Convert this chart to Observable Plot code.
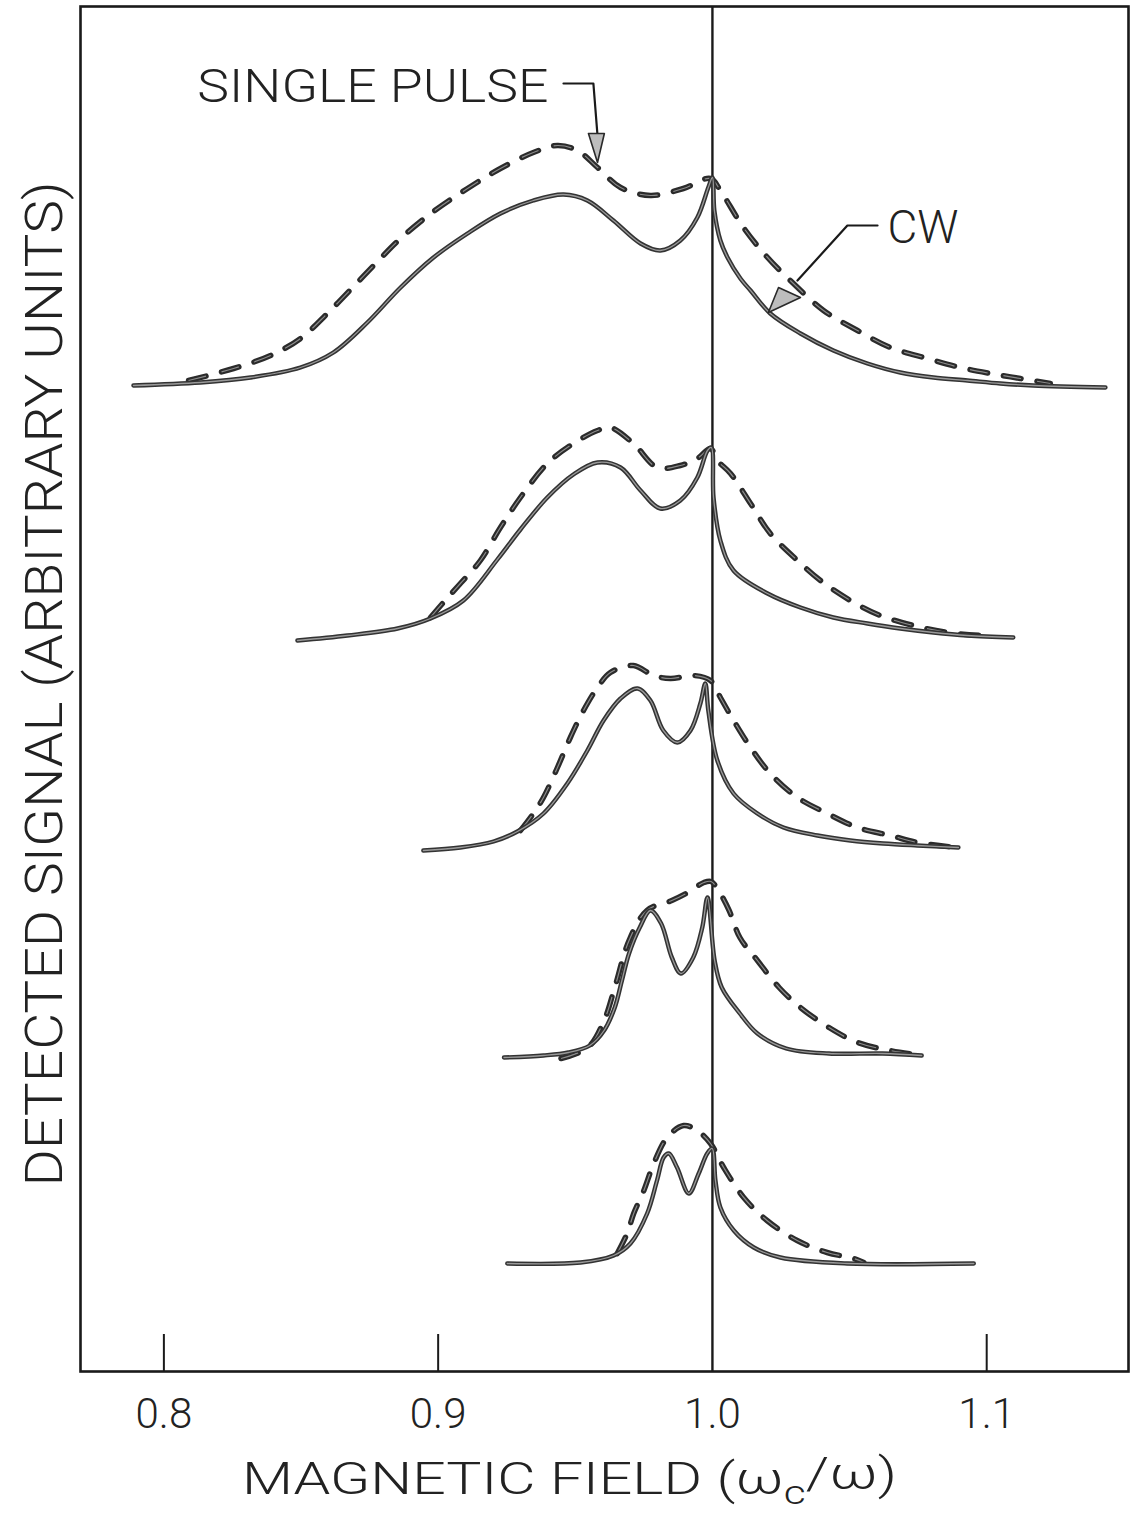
<!DOCTYPE html>
<html><head><meta charset="utf-8">
<script src="https://cdn.jsdelivr.net/npm/d3@7"></script>
<script src="https://cdn.jsdelivr.net/npm/@observablehq/plot@0.6"></script>
<style>
html,body{margin:0;padding:0;background:#fff;}
#chart{width:1137px;height:1516px;}
svg{display:block;}
</style></head>
<body><div id="chart"></div>
<script>
// ---- axis / tick data ----
const xDomain = [0.7696, 1.1517];
const yDomain = [0, 136.5];
const xTickLabels = [0.8, 0.9, 1.0, 1.1];
const xTickMarks = [0.8, 0.9, 1.1];
const resonanceLine = [1.0];
const xTitle = "MAGNETIC FIELD (ωc/ω)";
const yTitle = "DETECTED SIGNAL (ARBITRARY UNITS)";

// ---- CW (solid) traces, [magnetic field, signal] ----
const cw1 = [[0.7889,98.6],[0.8133,98.9],[0.8316,99.4],[0.8498,100.4],[0.8618,101.9],[0.8742,104.9],[0.8863,108.4],[0.8983,111.4],[0.9107,113.8],[0.9227,115.8],[0.9347,117.1],[0.9457,117.7],[0.9544,117.1],[0.9639,115.1],[0.9738,112.8],[0.9810,112.1],[0.9883,113.1],[0.9945,115.4],[0.9985,118.4],[1.0000,119.4],[1.0007,116.1],[1.0029,113.1],[1.0055,111.4],[1.0102,109.3],[1.0139,108.1],[1.0211,105.8],[1.0321,103.8],[1.0441,102.1],[1.0565,100.8],[1.0685,99.9],[1.0806,99.4],[1.0930,99.1],[1.1050,98.8],[1.1170,98.6],[1.1433,98.4]];
const cw2 = [[0.8487,73.1],[0.8669,73.6],[0.8852,74.3],[0.8972,75.3],[0.9092,77.1],[0.9216,81.2],[0.9300,84.2],[0.9398,87.4],[0.9493,89.7],[0.9581,90.9],[0.9665,90.4],[0.9738,88.1],[0.9810,86.3],[0.9883,87.1],[0.9945,89.4],[0.9982,92.1],[0.9996,92.4],[1.0004,87.4],[1.0029,83.1],[1.0077,80.1],[1.0201,77.8],[1.0321,76.4],[1.0441,75.4],[1.0565,74.8],[1.0685,74.3],[1.0806,73.9],[1.0930,73.6],[1.1097,73.4]];
const cw3 = [[0.8946,52.1],[0.9081,52.4],[0.9202,53.0],[0.9289,54.0],[0.9384,55.8],[0.9471,58.8],[0.9544,62.1],[0.9603,65.1],[0.9665,67.3],[0.9727,68.3],[0.9774,67.1],[0.9821,64.1],[0.9872,62.9],[0.9920,64.1],[0.9956,66.8],[0.9974,68.8],[0.9985,66.1],[1.0018,61.1],[1.0077,57.8],[1.0164,55.8],[1.0259,54.4],[1.0383,53.6],[1.0503,53.1],[1.0623,52.8],[1.0747,52.6],[1.0897,52.4]];
const cw4 = [[0.9240,31.4],[0.9384,31.6],[0.9475,31.9],[0.9553,32.6],[0.9605,34.1],[0.9644,36.4],[0.9670,39.1],[0.9696,41.8],[0.9735,44.4],[0.9774,46.1],[0.9813,44.8],[0.9852,41.4],[0.9885,39.8],[0.9930,41.4],[0.9963,44.4],[0.9982,47.4],[1.0008,41.1],[1.0034,38.4],[1.0100,35.8],[1.0164,33.8],[1.0269,32.3],[1.0425,31.8],[1.0620,31.8],[1.0763,31.6]];
const cw5 = [[0.9252,10.8],[0.9519,10.9],[0.9640,11.6],[0.9701,12.8],[0.9762,15.8],[0.9798,19.1],[0.9822,21.4],[0.9841,21.8],[0.9871,20.4],[0.9914,17.8],[0.9950,19.8],[0.9981,21.8],[0.9999,22.3],[1.0011,19.1],[1.0029,16.4],[1.0078,14.1],[1.0151,12.4],[1.0248,11.4],[1.0491,10.8],[1.0953,10.8]];

// ---- single pulse (dashed) traces ----
const sp1 = [[0.8090,99.1],[0.8254,100.3],[0.8389,101.6],[0.8498,103.3],[0.8596,105.8],[0.8681,108.2],[0.8779,111.0],[0.8863,113.3],[0.8983,116.0],[0.9107,118.3],[0.9227,120.3],[0.9347,121.9],[0.9435,122.6],[0.9508,122.1],[0.9581,120.4],[0.9665,118.4],[0.9774,117.6],[0.9894,118.3],[0.9993,119.3],[1.0029,118.1],[1.0113,114.4],[1.0201,111.4],[1.0284,109.1],[1.0405,106.1],[1.0529,104.1],[1.0649,102.4],[1.0784,101.3],[1.0904,100.4],[1.1014,99.8],[1.1123,99.3],[1.1232,98.8]];
const sp2 = [[0.8972,75.4],[0.9019,76.9],[0.9081,78.8],[0.9154,81.1],[0.9227,84.4],[0.9300,87.4],[0.9398,90.8],[0.9493,92.8],[0.9581,94.1],[0.9628,94.4],[0.9712,92.8],[0.9799,90.4],[0.9883,90.6],[0.9945,91.3],[0.9993,92.3],[1.0018,91.1],[1.0066,89.8],[1.0139,86.8],[1.0211,83.8],[1.0310,81.1],[1.0394,79.1],[1.0503,77.1],[1.0612,75.6],[1.0733,74.6],[1.0857,73.9],[1.0988,73.6]];
const sp3 = [[0.9300,54.1],[0.9347,55.8],[0.9384,57.4],[0.9435,60.4],[0.9482,63.4],[0.9530,66.1],[0.9581,68.4],[0.9628,69.9],[0.9712,70.6],[0.9785,69.6],[0.9847,69.3],[0.9931,69.6],[0.9993,69.1],[1.0029,67.4],[1.0077,65.1],[1.0139,62.4],[1.0211,59.8],[1.0310,57.4],[1.0419,55.8],[1.0529,54.4],[1.0649,53.6],[1.0747,52.9],[1.0893,52.4]];
const sp4 = [[0.9448,31.3],[0.9546,32.4],[0.9605,35.1],[0.9644,38.4],[0.9696,43.1],[0.9761,46.1],[0.9852,47.1],[0.9904,47.8],[0.9969,48.9],[0.9995,49.0],[1.0022,48.1],[1.0061,46.1],[1.0100,43.4],[1.0164,41.1],[1.0243,38.4],[1.0321,36.4],[1.0425,34.4],[1.0529,32.9],[1.0646,32.1],[1.0763,31.6]];
const sp5 = [[0.9653,11.8],[0.9689,13.8],[0.9713,15.8],[0.9750,18.1],[0.9786,20.8],[0.9835,23.4],[0.9895,24.6],[0.9944,24.1],[0.9993,22.8],[1.0041,20.4],[1.0114,17.4],[1.0199,15.1],[1.0309,13.1],[1.0418,11.9],[1.0515,11.3],[1.0552,10.9]];

// ---- annotations ----
const labels = ["SINGLE PULSE", "CW"];
const labelX = [0.8122, 1.0638];
const labelY = [127.0, 112.9];
const singlePulseLeader = [[0.9457,128.8],[0.9566,128.8],[0.9581,123.6]];
const singlePulseHead = [[0.9548,123.8],[0.9606,123.8],[0.9581,120.9],[0.9548,123.8]];
const cwLeader = [[1.0602,114.6],[1.0492,114.6],[1.0310,109.1]];
const cwHead = [[1.0241,108.4],[1.0321,107.4],[1.0204,105.9],[1.0241,108.4]];

// ---- build tables ----
const toRows = (arr, name) => arr.map(([x, y]) => ({x, y, curve: name}));
const cwRows = [cw1, cw2, cw3, cw4, cw5].flatMap((a, i) => toRows(a, "cw" + (i + 1)));
const spRows = [sp1, sp2, sp3, sp4, sp5].flatMap((a, i) => toRows(a, "sp" + (i + 1)));
const leaderRows = [...toRows(singlePulseLeader, "a"), ...toRows(cwLeader, "b")];
const headRows = [...toRows(singlePulseHead, "a"), ...toRows(cwHead, "b")];
const labelRows = labels.map((t, i) => ({t, x: labelX[i], y: labelY[i]}));

const font = "Roboto, 'DejaVu Sans', sans-serif";
const ink = "#222";

const chart = Plot.plot({
  width: 1137,
  height: 1516,
  marginLeft: 80,
  marginRight: 9,
  marginTop: 6,
  marginBottom: 145,
  style: {fontFamily: font, background: "#fff", color: ink},
  x: {domain: xDomain, axis: null},
  y: {domain: yDomain, axis: null},
  marks: [
    Plot.frame({stroke: "#1a1a1a", strokeWidth: 2.6}),
    Plot.ruleX(resonanceLine, {stroke: "#1a1a1a", strokeWidth: 2.4}),
    Plot.ruleX(xTickMarks, {stroke: "#1a1a1a", strokeWidth: 2, insetTop: 1328}),
    Plot.text(xTickLabels, {x: d => d, text: d => d.toFixed(1), frameAnchor: "bottom", lineAnchor: "bottom", dy: 56, fontSize: 42, fontWeight: 300, fill: ink}),
    Plot.text([xTitle], {text: d => d, frameAnchor: "bottom", lineAnchor: "bottom", dx: -35, dy: 122, fontSize: 45, fontWeight: 300, fill: ink}),
    Plot.text([yTitle], {text: d => d, frameAnchor: "left", textAnchor: "middle", lineAnchor: "bottom", rotate: -90, dx: -19, dy: -5, fontSize: 52, fontWeight: 300, fill: ink}),
    // single-pulse dashed curves
    Plot.line(spRows, {x: "x", y: "y", z: "curve", curve: "catmull-rom", stroke: "#2b2b2b", strokeWidth: 5.5, strokeDasharray: "18,16", strokeLinecap: "round"}),
    Plot.line(spRows, {x: "x", y: "y", z: "curve", curve: "catmull-rom", stroke: "#8c8c8c", strokeWidth: 1.2, strokeDasharray: "18,16", strokeLinecap: "butt"}),
    // CW solid curves
    Plot.line(cwRows, {x: "x", y: "y", z: "curve", curve: "catmull-rom", stroke: "#333", strokeWidth: 4.4, strokeLinecap: "round"}),
    Plot.line(cwRows, {x: "x", y: "y", z: "curve", curve: "catmull-rom", stroke: "#9a9a9a", strokeWidth: 1.3}),
    // annotations
    Plot.line(leaderRows, {x: "x", y: "y", z: "curve", stroke: "#1a1a1a", strokeWidth: 2.2}),
    Plot.line(headRows, {x: "x", y: "y", z: "curve", fill: "#bdbdbd", stroke: "#2a2a2a", strokeWidth: 1.6}),
    Plot.text(labelRows, {x: "x", y: "y", text: "t", textAnchor: "start", lineAnchor: "bottom", fontSize: 47, fontWeight: 300, fill: ink})
  ]
});

// condensed lettering: fit texts to their measured lengths; subscript in axis title
const fitLengths = {"SINGLE PULSE": 351, "CW": 71, [yTitle]: 1005, [xTitle]: 655};
d3.select(chart).selectAll("text").each(function() {
  const t = this.textContent;
  if (t === xTitle) {
    const el = d3.select(this);
    el.text(null);
    el.append("tspan").text("MAGNETIC FIELD (ω");
    el.append("tspan").attr("dy", "0.32em").attr("font-size", "0.72em").text("c");
    el.append("tspan").attr("dy", "-0.32em").text("/ω)");
  }
  if (fitLengths[t]) {
    this.setAttribute("textLength", fitLengths[t]);
    this.setAttribute("lengthAdjust", "spacingAndGlyphs");
  }
});
document.getElementById("chart").appendChild(chart);
</script>
</body></html>
